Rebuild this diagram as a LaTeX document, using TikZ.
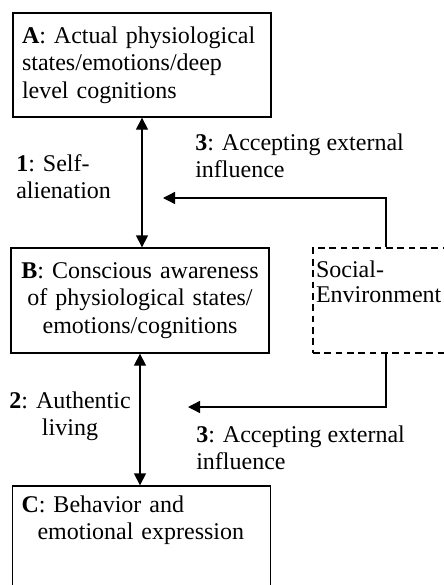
\documentclass[tikz,border=0pt]{standalone}
\usepackage{fontspec}
\setmainfont{Liberation Serif}
\usepackage{tikz}
\usetikzlibrary{arrows.meta,positioning,calc}

\begin{document}
\begin{tikzpicture}[x=0.75pt, y=-0.75pt,
    every node/.style={font=\fontsize{18}{20.5}\selectfont},
    box/.style={draw, line width=1pt, text width=180pt, inner xsep=6.75pt, inner ysep=0pt, minimum width=193.5pt},
    lab/.style={inner sep=0pt},
    arr/.style={line width=1pt, -{Triangle[length=9pt,width=9pt]}},
    darr/.style={line width=1pt, {Triangle[length=9pt,width=9pt]}-{Triangle[length=9pt,width=9pt]}}]
    \useasboundingbox (0,0) rectangle (443,585);

    % The three levels
    \node[box, align=left, minimum height=78pt] (a) at (142,65)
      {\textbf{A}: Actual physiological\\states/emotions/deep\\level cognitions};
    \node[box, align=center, minimum height=78.75pt] (b) at (140,300.5)
      {\textbf{B}: Conscious awareness\\of physiological states/\\emotions/cognitions};
    \node[box, align=left, minimum height=88.5pt] (c) at (141.5,545)
      {\textbf{C}: Behavior and\\\hspace*{12pt}emotional expression\\~\\~};

    % Social environment
    \node[draw, dash pattern=on 5pt off 3.5pt, line width=0.8pt, align=left, text width=105pt,
          inner xsep=2.25pt, inner ysep=0pt, minimum width=109.5pt, minimum height=78.75pt] (soc) at (386,300.5)
      {Social-\\[-2pt]Environment\\[8pt]~};

    % Links between levels
    \draw[darr] (a.south) -- (a.south |- b.north);
    \draw[darr] (b.south) -- (b.south |- c.north);
    \node[lab, anchor=west, align=left] (lab1) at (16,177) {\textbf{1}: Self-\\alienation};
    \node[lab, align=center] (lab2) at (70,416) {\textbf{2}: Authentic\\living};

    % External influence
    \coordinate (t1) at (163,198);
    \coordinate (t2) at (188,407);
    \draw[arr] (soc.north) |- (t1);
    \draw[arr] (soc.south) |- (t2);
    \node[lab, anchor=west, align=left] (lab3a) at (195,156) {\textbf{3}: Accepting external\\influence};
    \node[lab, anchor=west, align=left] (lab3b) at (196,448) {\textbf{3}: Accepting external\\influence};
  \end{tikzpicture}
\end{document}
